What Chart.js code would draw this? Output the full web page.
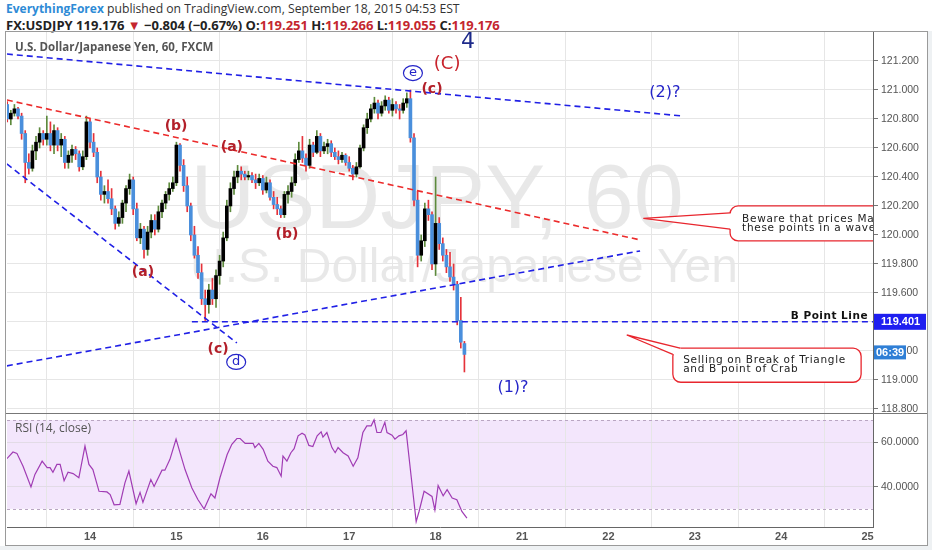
<!DOCTYPE html>
<html>
<head>
<meta charset="utf-8">
<script src="https://cdn.jsdelivr.net/npm/chart.js@4.4.0/dist/chart.umd.min.js"></script>
<style>
  html, body { margin: 0; padding: 0; background: #fff; }
  body { width: 932px; height: 550px; position: relative; overflow: hidden; font-family: "Open Sans", "Liberation Sans", Arial, sans-serif; }
  #head1 { position: absolute; left: 6px; top: 0px; font-size: 12.2px; color: #333; white-space: nowrap; }
  #head1 .user { color: #2e8bd6; font-weight: bold; font-size: 12px; }
  #head2 { position: absolute; left: 6px; top: 16px; font-size: 13px; font-weight: bold; color: #222; white-space: nowrap; }
  #head2 .r { color: #c4262e; }
  #frame { position: absolute; left: 5px; top: 31px; width: 921px; height: 513px; border: 1px solid #9a9a9a; }
  #wrap { position: absolute; left: 6px; top: 32px; width: 921px; height: 513px; }
  #edgeR { position: absolute; left: 928px; top: 31px; width: 4px; height: 519px; background: #eef1f3; }
  #edgeB { position: absolute; left: 0; top: 546px; width: 932px; height: 4px; background: #eef1f3; }
</style>
</head>
<body>
<div id="head1"><span class="user">EverythingForex</span> published on TradingView.com, September 18, 2015 04:53 EST</div>
<div id="head2">FX:USDJPY 119.176 <span class="r">▼</span> −0.804 (−0.67%) O:<span class="r">119.251</span> H:<span class="r">119.266</span> L:<span class="r">119.055</span> C:<span class="r">119.176</span></div>
<div id="edgeR"></div><div id="edgeB"></div>
<div id="frame"></div>
<div id="wrap"><canvas id="fxChart" width="921" height="513"></canvas></div>
<script>
// USDJPY 60 min candles (bar 0 = Sep 13 01:00, hour 0 = Sep 14 00:00)
const firstHour = -23;
const dayLabels = ['14', '15', '16', '17', '18', '21', '22', '23', '24', '25'];

const openP = [120.90,120.80,120.84,120.87,120.82,120.70,120.50,120.46,120.58,120.64,
  120.70,120.66,120.70,120.62,120.72,120.62,120.66,120.50,120.55,120.59,
  120.56,120.47,120.54,120.78,120.64,120.57,120.40,120.28,120.30,120.25,
  120.18,120.08,120.12,120.22,120.32,120.38,120.18,119.98,120.04,119.90,
  120.02,120.10,120.04,120.16,120.22,120.28,120.32,120.36,120.62,120.48,
  120.34,120.20,120.00,119.86,119.74,119.56,119.52,119.62,119.56,119.72,
  119.82,119.98,120.20,120.32,120.40,120.44,120.42,120.40,120.41,120.38,
  120.36,120.39,120.31,120.36,120.26,120.21,120.18,120.14,120.28,120.30,
  120.36,120.52,120.58,120.53,120.48,120.62,120.57,120.68,120.58,120.61,
  120.63,120.57,120.54,120.52,120.55,120.50,120.46,120.42,120.47,120.60,
  120.74,120.80,120.87,120.91,120.84,120.89,120.93,120.86,120.90,120.87,
  120.86,120.91,120.94,120.67,120.24,119.86,119.96,120.18,120.14,119.80,
  120.08,119.94,119.86,119.78,119.71,119.66,119.41,119.251];
const highP = [120.92,120.86,120.90,120.88,120.84,120.72,120.56,120.62,120.68,120.74,
  120.72,120.82,120.78,120.76,120.74,120.70,120.68,120.58,120.62,120.61,
  120.58,120.58,120.82,120.80,120.70,120.60,120.44,120.34,120.38,120.32,
  120.20,120.16,120.24,120.34,120.42,120.40,120.22,120.08,120.06,120.06,
  120.14,120.14,120.20,120.24,120.30,120.36,120.40,120.64,120.63,120.52,
  120.40,120.22,120.06,119.92,119.80,119.62,119.66,119.70,119.76,119.86,
  120.02,120.24,120.36,120.44,120.48,120.47,120.44,120.44,120.43,120.42,
  120.42,120.41,120.40,120.38,120.30,120.26,120.20,120.30,120.34,120.40,
  120.56,120.64,120.68,120.56,120.66,120.64,120.72,120.70,120.64,120.66,
  120.65,120.60,120.58,120.57,120.56,120.54,120.48,120.50,120.62,120.76,
  120.84,120.90,120.95,120.93,120.92,120.96,120.95,120.94,120.92,120.90,
  120.94,120.98,121.00,120.70,120.30,120.00,120.22,120.24,120.16,120.40,
  120.12,119.98,119.90,119.88,119.80,119.68,119.57,119.266];
const lowP = [120.78,120.76,120.82,120.80,120.66,120.36,120.42,120.44,120.52,120.60,
  120.62,120.62,120.58,120.56,120.58,120.54,120.46,120.46,120.50,120.52,
  120.44,120.45,120.52,120.60,120.54,120.36,120.24,120.22,120.22,120.14,
  120.04,120.06,120.08,120.16,120.28,120.14,119.96,119.94,119.84,119.86,
  119.98,120.00,120.02,120.12,120.18,120.24,120.30,120.34,120.44,120.30,
  120.16,119.96,119.84,119.70,119.52,119.41,119.46,119.52,119.50,119.66,
  119.78,119.96,120.16,120.28,120.36,120.38,120.38,120.38,120.36,120.32,
  120.34,120.28,120.29,120.24,120.18,120.14,120.12,120.12,120.22,120.26,
  120.34,120.50,120.50,120.44,120.46,120.54,120.56,120.54,120.56,120.56,
  120.54,120.52,120.49,120.50,120.48,120.44,120.38,120.40,120.46,120.58,
  120.70,120.78,120.84,120.80,120.82,120.86,120.84,120.82,120.84,120.80,
  120.84,120.88,120.64,120.20,119.78,119.82,119.92,120.10,119.76,119.72,
  119.90,119.82,119.74,119.68,119.62,119.38,119.22,119.055];
const closeP = [120.80,120.84,120.87,120.82,120.70,120.50,120.46,120.58,120.64,120.70,
  120.66,120.70,120.62,120.72,120.62,120.66,120.50,120.55,120.59,120.56,
  120.47,120.54,120.78,120.64,120.57,120.40,120.28,120.30,120.25,120.18,
  120.08,120.12,120.22,120.32,120.38,120.18,119.98,120.04,119.90,120.02,
  120.10,120.04,120.16,120.22,120.28,120.32,120.36,120.62,120.48,120.34,
  120.20,120.00,119.86,119.74,119.56,119.52,119.62,119.56,119.72,119.82,
  119.98,120.20,120.32,120.40,120.44,120.42,120.40,120.41,120.38,120.36,
  120.39,120.31,120.36,120.26,120.21,120.18,120.14,120.28,120.30,120.36,
  120.52,120.58,120.53,120.48,120.62,120.57,120.68,120.58,120.61,120.63,
  120.57,120.54,120.52,120.55,120.50,120.46,120.42,120.47,120.60,120.74,
  120.80,120.87,120.91,120.84,120.89,120.93,120.86,120.90,120.87,120.86,
  120.91,120.94,120.67,120.24,119.86,119.96,120.18,120.14,119.80,120.08,
  119.94,119.86,119.78,119.71,119.66,119.41,119.26,119.176];

// RSI(14) trace
const rsiHours = [-23.1,-21.4,-20.3,-18.6,-16.4,-15.3,-13.3,-11.9,-11.1,-10.3,-9.2,-8.3,-7.2,-6.1,-4.7,-3.1,-1.4,-0.3,0.8,2.5,
  4.7,5.6,6.7,8.3,9.7,10.8,12.8,13.9,14.7,16.9,17.8,20,20.8,22.2,23.9,25,26.4,28.3,30,31.7,
  33.6,34.7,36.1,38.1,39.4,40.8,41.7,43.1,45.3,45.8,46.9,48.1,49.4,50.8,51.9,53.1,53.6,54.7,55.8,56.7,
  57.8,58.9,59.7,60.8,61.9,63.1,64.2,64.7,65.8,67.2,68.1,68.9,70.3,71.7,73.1,74.4,75.8,76.9,78.1,78.9,
  79.7,80.8,81.9,82.5,83.9,84.7,85.8,86.9,87.8,89.2,90.6,91.4,92.8,95,95.8,96.7,98.1,99.2,100.6,101.9,
  103.3,104.7];
const rsiValues = [52.6,55.6,55.0,49.2,39.9,45.5,51.5,48.6,48.6,46.5,50.0,50.0,42.7,46.5,45.9,44.0,58.3,50.0,47.7,37.9,
  37.6,36.4,31.8,32.0,41.7,47.0,32.3,37.4,32.9,43.2,40.1,47.4,47.4,52.3,61.4,55.3,47.7,39.4,34.1,29.9,
  36.8,34.9,44.0,54.5,59.1,61.7,61.7,59.5,59.5,57.6,59.5,56.8,51.5,49.2,48.6,44.7,53.8,51.5,55.3,57.1,
  62.9,64.1,63.3,58.6,58.1,62.9,64.7,62.3,64.4,57.6,55.3,57.6,55.3,53.8,49.2,53.0,64.4,67.4,67.4,70.1,
  64.4,64.4,69.0,64.4,63.2,61.4,62.9,63.5,65.2,44.7,24.2,28.8,37.9,35.6,29.5,40.5,35.9,38.6,34.9,34.1,
  28.8,25.8];

// drawn trend lines: [start, end] in hours and prices
const upperBlueHours = [-23.1, 164.4], upperBluePrices = [121.248, 120.821];
const redLineHours = [-23.1, 152.8], redLinePrices = [120.931, 119.966];
const fallBlueHours = [-23.1, 40.8], fallBluePrices = [120.49, 119.255];
const riseBlueHours = [-23.1, 152.8], riseBluePrices = [119.097, 119.890];
const bPointHours = [28.3, 217.5], bPointPrices = [119.401, 119.401];

const priceTicks = [118.8, 119.0, 119.2, 119.4, 119.6, 119.8, 120.0, 120.2, 120.4, 120.6, 120.8, 121.0, 121.2];
const rsiTicks = [40, 60];

const hours = closeP.map((_, i) => firstHour + i);
const isUp = closeP.map((c, i) => c >= openP[i]);

function trendLine(hs, ps, color) {
  return {
    type: 'line',
    data: hs.map((h, i) => ({ x: h, y: ps[i] })),
    borderColor: color,
    borderWidth: 1.6,
    borderDash: [6, 4],
    pointRadius: 0,
    yAxisID: 'y',
    order: 0
  };
}

const waveLabels = [
  { t: '(b)', h: 23.9, p: 120.752 },
  { t: '(a)', h: 39.4, p: 120.607 },
  { t: '(b)', h: 54.7, p: 120.007 },
  { t: '(a)', h: 14.7, p: 119.745 },
  { t: '(c)', h: 35.6, p: 119.214 },
  { t: '(c)', h: 95.0, p: 121.007 }
];

const decor = {
  id: 'decor',
  beforeDraw(chart) {
    const { ctx, chartArea: a, scales: { y, yRsi } } = chart;
    ctx.save();
    const t70 = yRsi.getPixelForValue(70), t30 = yRsi.getPixelForValue(30);
    ctx.fillStyle = '#f3e6fc';
    ctx.fillRect(a.left, t70, a.right - a.left, t30 - t70);
    const mid = (a.left + a.right) / 2;
    ctx.fillStyle = 'rgba(0,0,0,0.09)';
    ctx.textAlign = 'center';
    ctx.font = '90px "Liberation Sans", Arial, sans-serif';
    ctx.fillText('USDJPY, 60', mid - 3, y.top + 196);
    ctx.font = '48px "Liberation Sans", Arial, sans-serif';
    ctx.fillText('U.S. Dollar/Japanese Yen', mid + 24, y.top + 250);
    ctx.restore();
  },
  beforeDatasetsDraw(chart) {
    const { ctx, chartArea: a, scales: { yRsi } } = chart;
    ctx.save();
    ctx.strokeStyle = '#b9a6c2';
    ctx.lineWidth = 1;
    ctx.setLineDash([3, 3]);
    [70, 30].forEach(v => {
      const py = Math.round(yRsi.getPixelForValue(v)) + 0.5;
      ctx.beginPath();
      ctx.moveTo(a.left, py);
      ctx.lineTo(a.right, py);
      ctx.stroke();
    });
    ctx.restore();
  },
  afterDraw(chart) {
    const { ctx, chartArea: a, scales: { x, y, yRsi } } = chart;
    const X = h => x.getPixelForValue(h), Y = p => y.getPixelForValue(p);
    ctx.save();

    // pane separator
    ctx.strokeStyle = '#777';
    ctx.lineWidth = 1;
    ctx.beginPath();
    ctx.moveTo(0, Math.round(y.bottom) + 0.5);
    ctx.lineTo(chart.width, Math.round(y.bottom) + 0.5);
    ctx.stroke();

    // legends
    ctx.textAlign = 'left';
    ctx.fillStyle = '#555';
    ctx.font = 'bold 11.5px "Open Sans", Arial, sans-serif';
    ctx.fillText('U.S. Dollar/Japanese Yen, 60, FXCM', a.left + 8, y.top + 19);
    ctx.font = '12px "Open Sans", Arial, sans-serif';
    ctx.fillText('RSI (14, close)', a.left + 8, yRsi.top + 19);

    // wave labels
    ctx.textAlign = 'center';
    ctx.textBaseline = 'middle';
    ctx.fillStyle = '#b3202a';
    ctx.font = 'bold 14px "DejaVu Sans", sans-serif';
    waveLabels.forEach(l => ctx.fillText(l.t, X(l.h), Y(l.p)));
    ctx.fillStyle = '#c8232c';
    ctx.font = '18px "DejaVu Sans", sans-serif';
    ctx.fillText('(C)', X(99.2), Y(121.179));
    ctx.fillStyle = '#1d2a8a';
    ctx.font = '22px "DejaVu Sans", sans-serif';
    ctx.fillText('4', X(105), Y(121.331));
    ctx.fillStyle = '#2424c8';
    ctx.font = '16px "DejaVu Sans", sans-serif';
    ctx.fillText('(2)?', X(159.7), Y(120.979));
    ctx.fillText('(1)?', X(117.5), Y(118.945));

    // circled letters
    [['e', 89.7, 121.117], ['d', 40.6, 119.124]].forEach(([t, h, p]) => {
      const cx = X(h), cy = Y(p);
      ctx.strokeStyle = '#2424c8';
      ctx.lineWidth = 1.2;
      ctx.beginPath();
      ctx.ellipse(cx, cy, 9.5, 7.5, 0, 0, Math.PI * 2);
      ctx.stroke();
      ctx.fillStyle = '#2424c8';
      ctx.font = '13px "DejaVu Sans", sans-serif';
      ctx.fillText(t, cx, cy);
    });

    // callouts
    ctx.textBaseline = 'alphabetic';
    ctx.textAlign = 'left';
    function callout(L, T, R, B, tip, a1, a2, lines, tx, b1, b2) {
      const r = 8;
      ctx.beginPath();
      ctx.moveTo(L + r, T);
      ctx.lineTo(R - r, T);
      ctx.arcTo(R, T, R, T + r, r);
      ctx.lineTo(R, B - r);
      ctx.arcTo(R, B, R - r, B, r);
      ctx.lineTo(L + r, B);
      ctx.arcTo(L, B, L, B - r, r);
      ctx.lineTo(L, T + r);
      ctx.arcTo(L, T, L + r, T, r);
      ctx.closePath();
      ctx.fillStyle = '#fff';
      ctx.fill();
      ctx.strokeStyle = '#e8262e';
      ctx.lineWidth = 1.3;
      ctx.stroke();
      ctx.beginPath();
      ctx.moveTo(tip[0], tip[1]);
      ctx.lineTo(a1[0], a1[1]);
      ctx.lineTo(a1[0] + 3, a1[1] + 3);
      ctx.lineTo(a2[0] + 3, a2[1]);
      ctx.lineTo(a2[0], a2[1]);
      ctx.closePath();
      ctx.fill();
      ctx.beginPath();
      ctx.moveTo(a1[0], a1[1]);
      ctx.lineTo(tip[0], tip[1]);
      ctx.lineTo(a2[0], a2[1]);
      ctx.stroke();
      ctx.fillStyle = '#222';
      ctx.font = '10.5px "DejaVu Sans", sans-serif';
      if ('letterSpacing' in ctx) ctx.letterSpacing = '0.7px';
      ctx.fillText(lines[0], tx, T + b1);
      ctx.fillText(lines[1], tx, T + b2);
      if ('letterSpacing' in ctx) ctx.letterSpacing = '0px';
    }

    ctx.save();
    ctx.beginPath();
    ctx.rect(a.left, a.top, a.right - a.left, y.bottom - a.top);
    ctx.clip();
    const aL = X(177.8), aT = Y(120.2), aB = Y(119.959);
    callout(aL, aT, X(235), aB, [X(153.7), Y(120.115)], [aL, Y(120.152)], [aL, Y(120.041)],
      ['Beware that prices May retest', 'these points in a wave'], aL + 12, 15.7, 24.7);
    const bL = X(161.9), bT = Y(119.219);
    callout(bL, bT, X(214.2), Y(118.984), [X(149.1), Y(119.31)], [X(163.9), bT], [bL, Y(119.177)],
      ['Selling on Break of Triangle', 'and B point of Crab'], bL + 10.3, 15.2, 24.2);
    ctx.restore();

    // B point line label
    ctx.textAlign = 'right';
    ctx.fillStyle = '#111';
    ctx.font = 'bold 10.5px "DejaVu Sans", sans-serif';
    if ('letterSpacing' in ctx) ctx.letterSpacing = '0.5px';
    ctx.fillText('B Point Line', a.right - 5, Y(119.401) - 3);
    if ('letterSpacing' in ctx) ctx.letterSpacing = '0px';

    // price axis markers
    ctx.textAlign = 'left';
    ctx.textBaseline = 'middle';
    const bY = Y(119.401);
    ctx.fillStyle = '#1e1ef0';
    ctx.fillRect(a.right + 1, bY - 8, 52, 16);
    ctx.fillStyle = '#fff';
    ctx.font = 'bold 11px "Liberation Sans", Arial, sans-serif';
    ctx.fillText('119.401', a.right + 8, bY + 0.5);
    const tY = Y(119.19);
    ctx.fillStyle = '#2f7fd6';
    ctx.fillRect(a.right + 1, tY - 7, 32, 14);
    ctx.fillStyle = '#fff';
    ctx.fillText('06:39', a.right + 3, tY + 0.5);
    ctx.restore();
  }
};

new Chart(document.getElementById('fxChart'), {
  type: 'bar',
  data: {
    datasets: [
      trendLine(upperBlueHours, upperBluePrices, '#2020e6'),
      trendLine(redLineHours, redLinePrices, '#ec2b2b'),
      trendLine(fallBlueHours, fallBluePrices, '#2020e6'),
      trendLine(riseBlueHours, riseBluePrices, '#2020e6'),
      trendLine(bPointHours, bPointPrices, '#2020e6'),
      {
        type: 'bar',
        data: hours.map((h, i) => ({ x: h, y: [openP[i], closeP[i]] })),
        backgroundColor: isUp.map(u => u ? '#000000' : '#4a8fdc'),
        barThickness: 3,
        grouped: false,
        yAxisID: 'y',
        order: 1
      },
      {
        type: 'bar',
        data: hours.map((h, i) => ({ x: h, y: [lowP[i], highP[i]] })),
        backgroundColor: isUp.map(u => u ? '#5d8a3c' : '#e5323a'),
        barThickness: 1,
        grouped: false,
        yAxisID: 'y',
        order: 2
      },
      {
        type: 'line',
        data: rsiHours.map((h, i) => ({ x: h, y: rsiValues[i] })),
        borderColor: '#a03cb4',
        borderWidth: 1.2,
        pointRadius: 0,
        yAxisID: 'yRsi',
        order: 0
      }
    ]
  },
  options: {
    responsive: false,
    animation: false,
    layout: { padding: { left: 1, top: 0, right: 0, bottom: 0 } },
    plugins: { legend: { display: false }, tooltip: { enabled: false } },
    scales: {
      x: {
        type: 'linear',
        min: -23.06,
        max: 217.5,
        offset: false,
        grid: { color: '#e6e6e6', drawTicks: false },
        border: { color: '#666' },
        afterBuildTicks: s => { s.ticks = dayLabels.map((_, k) => ({ value: k * 24 })); },
        ticks: {
          callback: v => dayLabels[Math.round(v / 24)],
          color: '#555',
          font: { family: '"Liberation Sans", Arial, sans-serif', size: 11, weight: 'bold' },
          padding: 3,
          maxRotation: 0
        },
        afterFit: s => { s.height = 18; s.paddingLeft = 0; s.paddingRight = 0; }
      },
      y: {
        position: 'right',
        stack: 'pane',
        stackWeight: 381,
        min: 118.772,
        max: 121.4,
        afterBuildTicks: s => { s.ticks = priceTicks.map(v => ({ value: v })); },
        grid: { color: '#e6e6e6', tickLength: 5, tickColor: '#777' },
        border: { color: '#666' },
        ticks: {
          callback: v => v.toFixed(3),
          color: '#555',
          font: { family: '"Liberation Sans", Arial, sans-serif', size: 10.5 },
          padding: 3
        },
        afterFit: s => { s.width = 54; s.paddingTop = 0; s.paddingBottom = 0; }
      },
      yRsi: {
        position: 'right',
        stack: 'pane',
        stackWeight: 114,
        min: 21.8,
        max: 73.2,
        afterBuildTicks: s => { s.ticks = rsiTicks.map(v => ({ value: v })); },
        grid: { color: '#e2dbe6', tickLength: 5, tickColor: '#777' },
        border: { color: '#666' },
        ticks: {
          callback: v => v.toFixed(4),
          color: '#555',
          font: { family: '"Liberation Sans", Arial, sans-serif', size: 10.5 },
          padding: 3
        },
        afterFit: s => { s.width = 54; s.paddingTop = 0; s.paddingBottom = 0; }
      }
    }
  },
  plugins: [decor]
});
</script>
</body>
</html>
